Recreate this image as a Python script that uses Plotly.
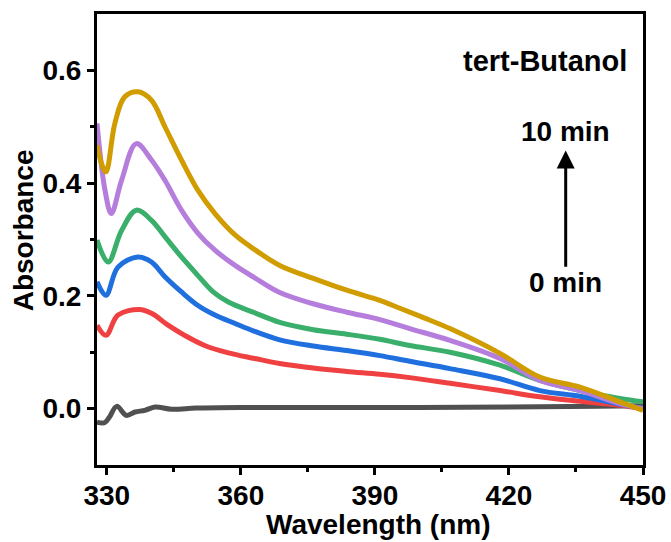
import plotly.graph_objects as go

# ---- data ----
wl_10 = [327.8, 328.8, 329.8, 331.8, 334.0, 337.0, 340.0, 343.0, 346.7, 350.4, 354.2, 358.7, 363.1,
         368.7, 376.2, 383.7, 391.1, 395.6, 401.0, 406.8, 418.0, 426.9, 435.9, 444.8, 450.0]
abs_10 = [0.467, 0.435, 0.420, 0.506, 0.553, 0.562, 0.547, 0.500, 0.441, 0.387, 0.346, 0.308, 0.282,
          0.254, 0.231, 0.210, 0.192, 0.178, 0.161, 0.142, 0.098, 0.056, 0.038, 0.012, -0.003]

wl_8 = [327.8, 329.6, 331.0, 333.3, 336.6, 340.0, 343.0, 346.7, 350.4, 354.2, 358.7, 363.1, 368.7,
        376.2, 383.7, 391.1, 397.8, 406.8, 418.0, 426.9, 435.9, 444.8, 450.0]
abs_8 = [0.506, 0.387, 0.346, 0.405, 0.470, 0.441, 0.405, 0.352, 0.311, 0.281, 0.254, 0.232, 0.206,
         0.186, 0.171, 0.158, 0.142, 0.121, 0.089, 0.050, 0.032, 0.009, 0.000]

wl_6 = [327.8, 330.3, 333.3, 336.6, 340.0, 343.0, 346.7, 350.4, 353.8, 357.2, 363.1, 368.7, 376.2,
        383.7, 391.1, 397.8, 406.8, 418.0, 426.9, 435.9, 444.8, 450.0]
abs_6 = [0.299, 0.260, 0.316, 0.352, 0.334, 0.305, 0.269, 0.236, 0.207, 0.189, 0.170, 0.153, 0.140,
         0.132, 0.123, 0.112, 0.100, 0.077, 0.050, 0.032, 0.018, 0.012]

wl_4 = [327.8, 329.8, 332.5, 337.0, 340.0, 343.0, 346.7, 350.4, 354.2, 358.7, 363.1, 368.7, 376.2,
        383.7, 391.1, 397.8, 406.8, 418.0, 426.9, 435.9, 444.8, 450.0]
abs_4 = [0.225, 0.201, 0.251, 0.269, 0.260, 0.234, 0.207, 0.183, 0.166, 0.151, 0.137, 0.122, 0.111,
         0.103, 0.094, 0.084, 0.071, 0.053, 0.032, 0.022, 0.008, 0.000]

wl_2 = [327.8, 329.8, 332.5, 337.3, 340.0, 343.7, 347.4, 351.9, 357.2, 363.1, 368.7, 376.2, 383.7,
        391.1, 397.8, 406.8, 418.0, 426.9, 435.9, 444.8, 450.0]
abs_2 = [0.148, 0.130, 0.166, 0.176, 0.169, 0.148, 0.130, 0.112, 0.099, 0.089, 0.080, 0.072, 0.066,
         0.061, 0.055, 0.045, 0.032, 0.021, 0.013, 0.006, 0.000]

wl_0 = [327.8, 329.5, 330.6, 332.2, 334.4, 336.3, 338.5, 340.8, 344.5, 350.0, 360.0, 380.0, 400.0,
        420.0, 440.0, 450.0]
abs_0 = [-0.024, -0.025, -0.015, 0.004, -0.012, -0.006, -0.003, 0.003, -0.001, 0.001, 0.002, 0.002,
         0.002, 0.003, 0.004, 0.005]

series = [
    (wl_0, abs_0, "#505050"),
    (wl_2, abs_2, "#EF4141"),
    (wl_4, abs_4, "#1F6FDE"),
    (wl_6, abs_6, "#3AAE6B"),
    (wl_8, abs_8, "#B57EDC"),
    (wl_10, abs_10, "#D09C00"),
]

x_ticks = [330, 360, 390, 420, 450]
y_ticks = [0.0, 0.2, 0.4, 0.6]
y_tick_text = ["0.0", "0.2", "0.4", "0.6"]

FONT = "Liberation Sans"

fig = go.Figure()
for wl, ab, col in series:
    fig.add_trace(go.Scatter(x=wl, y=ab, mode="lines",
                             line=dict(color=col, width=5, shape="spline", smoothing=1.0),
                             showlegend=False, hoverinfo="skip"))

axis_common = dict(showgrid=False, zeroline=False, showline=True, linecolor="black", linewidth=3,
                   mirror=True, ticks="outside", ticklen=7, tickwidth=3, tickcolor="black",
                   automargin=False,
                   tickfont=dict(family=FONT, size=28, color="black", weight="bold"))

fig.update_xaxes(range=[327.8, 450], tickvals=x_ticks, ticklabelstandoff=-4,
                 minor=dict(tickvals=[345, 375, 405, 435], ticks="outside", ticklen=4,
                            tickwidth=3, tickcolor="black"),
                 **axis_common)
fig.update_yaxes(range=[-0.1, 0.7], tickvals=y_ticks, ticktext=y_tick_text,
                 minor=dict(tickvals=[0.1, 0.3, 0.5], ticks="outside", ticklen=4,
                            tickwidth=3, tickcolor="black"),
                 **axis_common)

bold = dict(family=FONT, color="black", weight="bold")
fig.add_annotation(text="Wavelength (nm)", xref="paper", yref="paper", x=0.515, y=-0.132,
                   showarrow=False, font=dict(size=28, **bold), xanchor="center", yanchor="middle")
fig.add_annotation(text="Absorbance", xref="paper", yref="paper", x=-0.134, y=0.52,
                   textangle=-90, showarrow=False, font=dict(size=28, **bold),
                   xanchor="center", yanchor="middle")
fig.add_annotation(text="tert-Butanol", xref="x", yref="y", x=428.0, y=0.616, showarrow=False,
                   font=dict(size=29, **bold), xanchor="center", yanchor="middle")
fig.add_annotation(text="10 min", xref="x", yref="y", x=432.7, y=0.492, showarrow=False,
                   font=dict(size=28, **bold), xanchor="center", yanchor="middle")
fig.add_annotation(text="0 min", xref="x", yref="y", x=432.7, y=0.223, showarrow=False,
                   font=dict(size=28, **bold), xanchor="center", yanchor="middle")
fig.add_annotation(x=432.7, y=0.458, ax=432.7, ay=0.249, xref="x", yref="y", axref="x", ayref="y",
                   text="", showarrow=True, arrowhead=2, arrowsize=1.2, arrowwidth=3,
                   arrowcolor="black")

fig.update_layout(width=671, height=542, margin=dict(l=97, r=28, t=14, b=77),
                  plot_bgcolor="white", paper_bgcolor="white")

fig.write_html("out.html")
